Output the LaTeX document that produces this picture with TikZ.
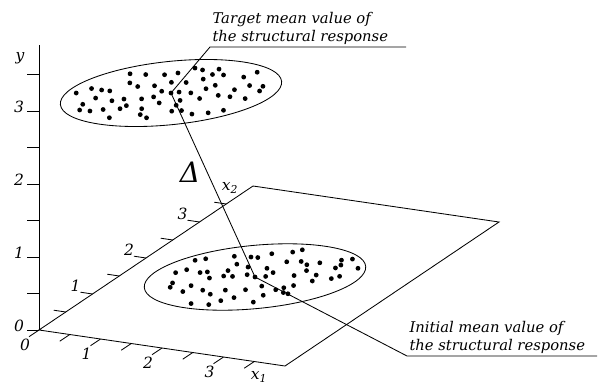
\documentclass[tikz,border=0pt]{standalone}
\usepackage{fontspec}
\setmainfont{DejaVu Serif}
\usetikzlibrary{calc}

\begin{document}
\begin{tikzpicture}[x=0.025cm, y=-0.025cm, line width=0.6pt,
    lbl/.style={font=\fontsize{10.5}{12.8}\selectfont\itshape, align=left, inner sep=1.5pt},
    num/.style={font=\fontsize{11}{12}\selectfont\itshape, inner sep=0pt},
    axtick/.style={line width=0.6pt}]
  \useasboundingbox (0,0) rectangle (610,388);
  % axes and base plane
  \coordinate (O) at (39,330);
  \coordinate (Ytop) at (39,45);
  \coordinate (Xone) at (285,366);
  \coordinate (Xtwo) at (253,186);
  \coordinate (Far) at (499,222);
  \draw (Ytop) -- (O);
  \draw (O) -- (Xone) -- (Far) -- (Xtwo) -- cycle;
  % y ticks
  \foreach \k in {0,...,7}
    \draw[axtick] ([shift={(0,-36.5*\k)}]O) -- ++(-12,0);
  \foreach \k/\lbl in {0/0,2/1,4/2,6/3}
    \node[num] (y\lbl) at ([shift={(-20,-36.5*\k-4)}]O) {\lbl};
  \node[num] (ylbl) at (20,58) {y};
  % x1 ticks
  \foreach \t in {0,0.5,...,3.5}
    \draw[axtick] ([shift={(61.5*\t,9*\t)}]O) -- ++(-10,6.7);
  \foreach \t in {0,...,3}
    \node[num] (xa\t) at ([shift={(61.5*\t-14,9*\t+15)}]O) {\t};
  \node[num] (xonelbl) at (259,377) {x\textsubscript{1}};
  % x2 ticks
  \foreach \s in {0.5,1,...,3.5}
    \draw[axtick] ([shift={(53.5*\s,-36*\s)}]O) -- ++(-12,-1.8);
  \foreach \s in {1,...,3}
    \node[num] (xb\s) at ([shift={(53.5*\s-17,-36*\s-8)}]O) {\s};
  \node[num] (xtwolbl) at (230,188) {x\textsubscript{2}};
  % the two clouds of responses
  \pgfmathsetseed{11}
  \foreach \cx/\cy/\rot in {171/93/6, 255/277/5.5} {
    \begin{scope}[shift={(\cx,\cy)}, rotate=\rot]
      \draw (0,0) ellipse [x radius=2.78cm, y radius=0.79cm];
      \foreach \v [count=\j] in {-22,-11,0,11,22} {
        \foreach \u in {-98,-84,...,98} {
          \pgfmathsetmacro{\px}{\u+7*mod(\j,2)+6*rand}
          \pgfmathsetmacro{\py}{\v+4*rand}
          \pgfmathtruncatemacro{\ok}{\px*\px/10816+\py*\py/729<1}
          \ifnum\ok=1 \fill (\px,\py) circle [radius=0.06cm]; \fi
        }
      }
    \end{scope}
  }
  % means and the shift between them
  \coordinate (mtop) at (171,93);
  \coordinate (mbot) at (255,277);
  \fill (mtop) circle [radius=0.06cm];
  \fill (mbot) circle [radius=0.06cm];
  \coordinate (tgtul) at (210,47);
  \coordinate (tgtend) at (406,47);
  \coordinate (iniul) at (407,356);
  \coordinate (iniend) at (597,356);
  \draw (tgtend) -- (tgtul) -- (mtop) -- (mbot) -- (iniul) -- (iniend);
  \node[lbl, anchor=south west] (tgtlbl) at (tgtul) {Target mean value of\\the structural response};
  \node[lbl, anchor=south west] (inilbl) at (iniul) {Initial mean value of\\the structural response};
  \node[font=\fontsize{20}{20}\selectfont\itshape, inner sep=0pt] (delta) at (190,172) {Δ};
\end{tikzpicture}
\end{document}
